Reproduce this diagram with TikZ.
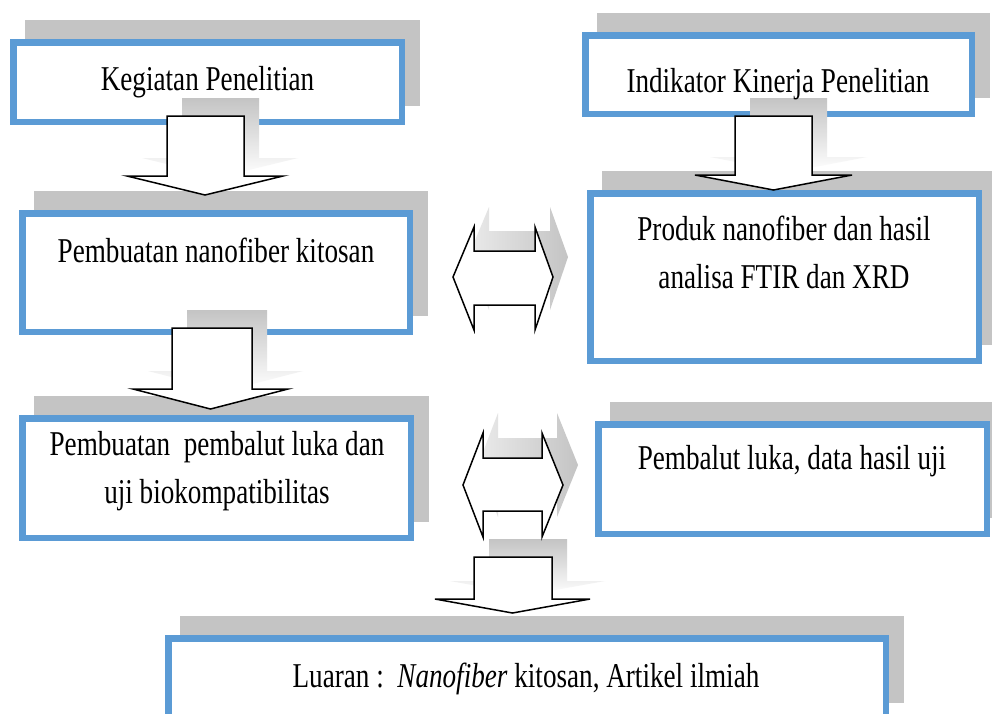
\documentclass[tikz,border=0pt]{standalone}
\usepackage{fontspec}
\setmainfont{Liberation Serif}[FakeStretch=0.78]
\definecolor{boxblue}{RGB}{91,155,213}
\definecolor{shgray}{RGB}{196,196,196}
\newcommand\shbox[5]{%
  \fill[shadowbox] (#2+15,#3-19) rectangle (#4+15,#5-19);
  \node[bluebox, minimum width={#4-#2-6.5}, minimum height={#5-#3-6.5}] (#1) at ({(#2+#4)/2},{(#3+#5)/2}) {};}
% down block arrow: shaft left, shaft right, top, neck, head left, head right, tip y
\newcommand\dnarrow[7]{%
  \path[downshadow] (#1+15,#3-18) -- (#2+15,#3-18) -- (#2+15,#4-18) -- (#6+15,#4-18)
     -- ({(#5+#6)/2+15},#7-18) -- (#5+15,#4-18) -- (#1+15,#4-18) -- cycle;
  \draw[blockarrow] (#1,#3) -- (#2,#3) -- (#2,#4) -- (#6,#4) -- ({(#5+#6)/2},#7)
     -- (#5,#4) -- (#1,#4) -- cycle;}
% double block arrow: left tip x, center y, notch left, notch right, right tip x, head top, shaft top, shaft bottom, head bottom
\newcommand\dblarrow[9]{%
  \path[sideshadow] (#1+15,#2-20) -- (#3+15,#6-20) -- (#3+15,#7-20) -- (#4+15,#7-20) -- (#4+15,#6-20)
     -- (#5+15,#2-20) -- (#4+15,#9-20) -- (#4+15,#8-20) -- (#3+15,#8-20) -- (#3+15,#9-20) -- cycle;
  \draw[blockarrow] (#1,#2) -- (#3,#6) -- (#3,#7) -- (#4,#7) -- (#4,#6) -- (#5,#2)
     -- (#4,#9) -- (#4,#8) -- (#3,#8) -- (#3,#9) -- cycle;}
\begin{document}
\begin{tikzpicture}[x=1pt,y=-1pt,
  bluebox/.style={draw=boxblue, line width=6.5pt, fill=white, inner sep=0pt},
  lbl/.style={font=\fontsize{34.8}{47.5}\selectfont, anchor=base, align=center, inner sep=0pt},
  shadowbox/.style={fill=shgray},
  blockarrow/.style={draw=black, fill=white, line width=1.5pt, line join=miter},
  downshadow/.style={top color=shgray, bottom color=white},
  sideshadow/.style={left color=shgray!35, right color=shgray}]
\useasboundingbox (0,0) rectangle (992,713);
\clip (0,0) rectangle (992,713);
\fill[white] (0,0) rectangle (992,713);
% boxes
\shbox{b1}{10}{39}{405}{125}
\shbox{b2}{19}{210}{413}{335}
\shbox{b3}{19}{415}{414}{541}
\shbox{r1}{582}{32}{975}{117}
\shbox{r2}{587}{190}{982}{364}
\shbox{r3}{595}{421}{990}{537}
\shbox{bb}{165}{635}{889}{722}
% arrows
\dnarrow{167}{244}{116}{176}{127}{283}{195}
\dnarrow{172}{252}{328}{389}{133}{288}{409}
\dnarrow{735}{812}{116}{175}{695}{852}{190}
\dnarrow{474}{552}{557}{599}{435}{590}{613}
\dblarrow{453}{277}{474}{535}{553}{227}{251}{305}{330}
\dblarrow{463}{485}{483}{542}{563}{433}{458}{511}{537}
% texts
\node[lbl] (t1) at (207.5,90) {Kegiatan Penelitian};
\node[lbl] (t2) at (216,262) {Pembuatan nanofiber kitosan};
\node[lbl] (t3) at (217,503) {Pembuatan\ \ pembalut luka dan\\uji biokompatibilitas};
\node[lbl] (tr1) at (778,92) {Indikator Kinerja Penelitian};
\node[lbl] (tr2) at (784,288) {Produk nanofiber dan hasil\\analisa FTIR dan XRD};
\node[lbl] (tr3) at (792,469) {Pembalut luka, data hasil uji};
\node[lbl] (tb) at (526,687) {Luaran :\ \ \textit{Nanofiber} kitosan, Artikel ilmiah};
\end{tikzpicture}
\end{document}
